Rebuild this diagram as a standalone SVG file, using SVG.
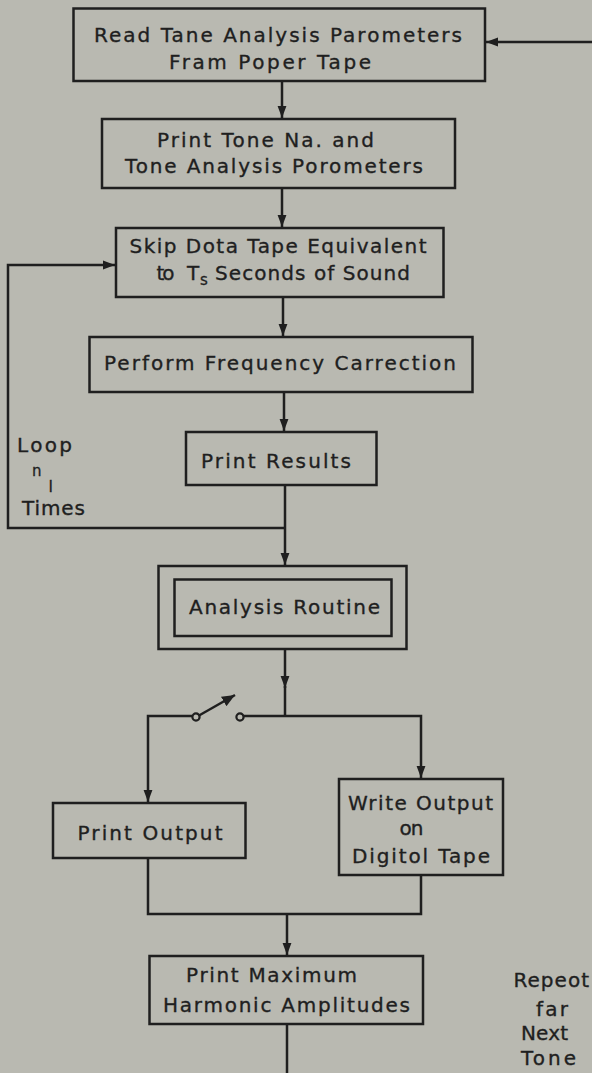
<svg xmlns="http://www.w3.org/2000/svg" width="592" height="1073" viewBox="0 0 592 1073">
<defs>
<style>
.bg{fill:#b9b9b1}
.box{fill:none;stroke:#1f1f1f;stroke-width:2.5}
.ln{fill:none;stroke:#1f1f1f;stroke-width:2.5}
.t{font-family:"DejaVu Sans","Liberation Sans",sans-serif;font-size:20px;fill:#1f1f1f;stroke:#1f1f1f;stroke-width:0.35}
.s{font-family:"DejaVu Sans","Liberation Sans",sans-serif;font-size:15px;fill:#1f1f1f;stroke:#1f1f1f;stroke-width:0.3}
.sw{fill:#b9b9b1;stroke:#1f1f1f;stroke-width:2.2}
</style>
<marker id="ah" markerWidth="13" markerHeight="10" refX="12" refY="5" orient="auto" markerUnits="userSpaceOnUse">
<path d="M0,0.6 L12,5 L0,9.4 Z" fill="#1f1f1f"/>
</marker>
<marker id="ah2" markerWidth="14" markerHeight="12" refX="13" refY="6" orient="auto" markerUnits="userSpaceOnUse">
<path d="M0,0.5 L13,6 L0,11.5 Z" fill="#1f1f1f"/>
</marker>
</defs>
<rect class="bg" x="0" y="0" width="592" height="1073"/>

<g id="connectors">
<path class="ln" d="M592,42 H486" marker-end="url(#ah)"/>
<path class="ln" d="M282,81 V118" marker-end="url(#ah)"/>
<path class="ln" d="M282,188 V227" marker-end="url(#ah)"/>
<path class="ln" d="M283,297 V336" marker-end="url(#ah)"/>
<path class="ln" d="M284,392 V431" marker-end="url(#ah)"/>
<path class="ln" d="M285,485 V565" marker-end="url(#ah)"/>
<path class="ln" d="M285,528 H8 V265 H115" marker-end="url(#ah)"/>
<path class="ln" d="M285,649 V688" marker-end="url(#ah)"/>
<path class="ln" d="M285,686 V716"/>
<path class="ln" d="M243.5,716 H421 V778" marker-end="url(#ah)"/>
<path class="ln" d="M192,716 H148 V802" marker-end="url(#ah)"/>
<path class="ln" d="M199,715.5 L235,695" marker-end="url(#ah2)"/>
<circle class="sw" cx="196" cy="717" r="3.6"/>
<circle class="sw" cx="240" cy="717" r="3.6"/>
<path class="ln" d="M148,858 V914 H421 V875"/>
<path class="ln" d="M287,914 V955" marker-end="url(#ah)"/>
<path class="ln" d="M287,1024 V1073"/>
</g>

<g id="n1">
<rect class="box" x="73.5" y="8.5" width="411.5" height="72.5"/>
<text class="t" x="94" y="42" textLength="368" lengthAdjust="spacing">Read Tane Analysis Parometers</text>
<text class="t" x="169" y="69" textLength="202" lengthAdjust="spacing">Fram Poper Tape</text>
</g>

<g id="n2">
<rect class="box" x="102" y="119" width="353" height="69"/>
<text class="t" x="157" y="147" textLength="217" lengthAdjust="spacing">Print Tone Na. and</text>
<text class="t" x="125" y="173" textLength="298" lengthAdjust="spacing">Tone Analysis Porometers</text>
</g>

<g id="n3">
<rect class="box" x="116" y="228" width="327.5" height="69"/>
<text class="t" x="129.5" y="253" textLength="297" lengthAdjust="spacing">Skip Dota Tape Equivalent</text>
<text class="t" x="156.5" y="280" textLength="18" lengthAdjust="spacing">to</text>
<text class="t" x="187" y="280">T</text>
<text class="s" x="200" y="285">s</text>
<text class="t" x="215" y="280" textLength="195" lengthAdjust="spacing">Seconds of Sound</text>
</g>

<g id="n4">
<rect class="box" x="89.5" y="337" width="383" height="55"/>
<text class="t" x="104" y="370" textLength="352" lengthAdjust="spacing">Perform Frequency Carrection</text>
</g>

<g id="n5">
<rect class="box" x="186" y="432" width="190.5" height="53"/>
<text class="t" x="201" y="468" textLength="150" lengthAdjust="spacing">Print Results</text>
</g>

<g id="loop-label">
<text class="t" x="17" y="452" textLength="55" lengthAdjust="spacing">Loop</text>
<text class="s" x="32" y="476">n</text>
<text class="s" x="48.5" y="492">I</text>
<text class="t" x="22" y="515" textLength="63" lengthAdjust="spacing">Times</text>
</g>

<g id="n6">
<rect class="box" x="158.5" y="566" width="248" height="83"/>
<rect class="box" x="174.5" y="579.5" width="217" height="56.5"/>
<text class="t" x="189" y="614" textLength="191" lengthAdjust="spacing">Analysis Routine</text>
</g>

<g id="n7">
<rect class="box" x="53" y="803" width="192.5" height="55"/>
<text class="t" x="77.5" y="840" textLength="145" lengthAdjust="spacing">Print Output</text>
</g>

<g id="n8">
<rect class="box" x="339" y="779" width="164" height="96"/>
<text class="t" x="348" y="810" textLength="145" lengthAdjust="spacing">Write Output</text>
<text class="t" x="399.5" y="835" textLength="24" lengthAdjust="spacing">on</text>
<text class="t" x="352" y="863" textLength="138" lengthAdjust="spacing">Digitol Tape</text>
</g>

<g id="n9">
<rect class="box" x="149.5" y="956" width="273.5" height="68"/>
<text class="t" x="186" y="982" textLength="171" lengthAdjust="spacing">Print Maximum</text>
<text class="t" x="163" y="1012" textLength="247" lengthAdjust="spacing">Harmonic Amplitudes</text>
</g>

<g id="repeat-label">
<text class="t" x="513.5" y="987" textLength="75.5" lengthAdjust="spacing">Repeot</text>
<text class="t" x="536" y="1016" textLength="32" lengthAdjust="spacing">far</text>
<text class="t" x="521" y="1040" textLength="47" lengthAdjust="spacing">Next</text>
<text class="t" x="521" y="1065" textLength="55" lengthAdjust="spacing">Tone</text>
</g>
</svg>
